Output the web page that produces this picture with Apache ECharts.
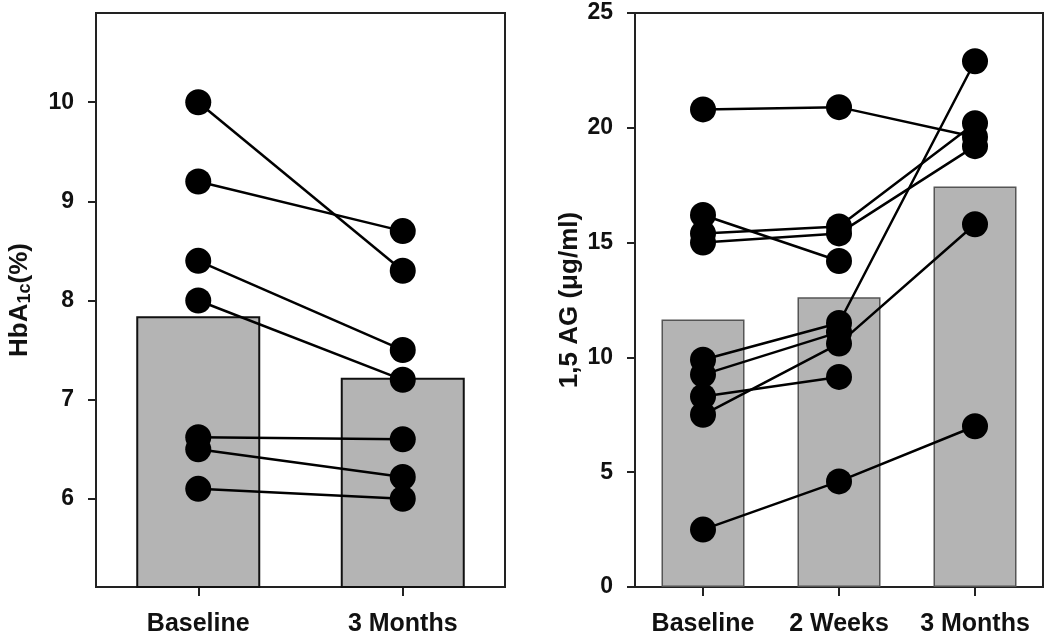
<!DOCTYPE html>
<html>
<head>
<meta charset="utf-8">
<script src="https://cdn.jsdelivr.net/npm/echarts@6/dist/echarts.min.js"></script>
<style>html,body{margin:0;padding:0;background:#fff}#c{width:1050px;height:637px}</style>
</head>
<body>
<div id="c"></div>
<script>
// Left panel: HbA1c
const catsA = ['Baseline', '3 Months'];
const barA = [7.84, 7.22];
const hbaBase = [10.0, 9.2, 8.4, 8.0, 6.62, 6.5, 6.1];
const hba3m   = [8.3, 8.7, 7.5, 7.2, 6.6, 6.22, 6.0];
const ticksA = [6, 7, 8, 9, 10];

// Right panel: 1,5 AG
const catsB = ['Baseline', '2 Weeks', '3 Months'];
const barB = [11.65, 12.62, 17.44];
const agBase = [20.8, 16.2, 15.4, 15.0, 9.9, 9.25, 8.3, 7.5, 2.5];
const ag2w   = [20.9, 14.2, 15.7, 15.4, 11.5, 11.1, 9.15, 10.6, 4.6];
const ag3m   = [19.6, null, 20.2, 19.2, 22.9, null, null, 15.8, 7.0];

const FONT = 'Liberation Sans, Arial, sans-serif';
const txt = { fontFamily: FONT, fontWeight: 'bold', color: '#111' };

const chart = echarts.init(document.getElementById('c'), null, { renderer: 'canvas' });

const series = [];
// bars
series.push({ type: 'bar', xAxisIndex: 0, yAxisIndex: 0, data: barA, barWidth: 124,
  itemStyle: { color: '#b4b4b4', borderColor: '#111', borderWidth: 2 }, z: 1, silent: true });
series.push({ type: 'bar', xAxisIndex: 1, yAxisIndex: 1, data: barB, barWidth: 83,
  itemStyle: { color: '#b4b4b4', borderColor: '#555', borderWidth: 1.5 }, z: 1, silent: true });

// connecting lines
hbaBase.forEach((v, i) => {
  series.push({ type: 'line', xAxisIndex: 0, yAxisIndex: 0, data: [v, hba3m[i]],
    symbol: 'none', lineStyle: { color: '#000', width: 2.5 }, z: 2, silent: true, animation: false });
});
agBase.forEach((v, i) => {
  series.push({ type: 'line', xAxisIndex: 1, yAxisIndex: 1, data: [v, ag2w[i], ag3m[i]],
    symbol: 'none', connectNulls: false, lineStyle: { color: '#000', width: 2.5 }, z: 2, silent: true, animation: false });
});

// points
const ptsA = [];
hbaBase.forEach(v => ptsA.push([catsA[0], v]));
hba3m.forEach(v => ptsA.push([catsA[1], v]));
const ptsB = [];
agBase.forEach(v => ptsB.push([catsB[0], v]));
ag2w.forEach(v => ptsB.push([catsB[1], v]));
ag3m.forEach(v => { if (v != null) ptsB.push([catsB[2], v]); });

series.push({ type: 'scatter', xAxisIndex: 0, yAxisIndex: 0, data: ptsA, symbolSize: 26,
  itemStyle: { color: '#000', opacity: 1 }, z: 3, silent: true });
series.push({ type: 'scatter', xAxisIndex: 1, yAxisIndex: 1, data: ptsB, symbolSize: 26,
  itemStyle: { color: '#000', opacity: 1 }, z: 3, silent: true });

const xAxisCommon = {
  type: 'category', boundaryGap: true,
  axisLine: { show: false },
  axisTick: { show: true, alignWithLabel: true, inside: false, length: 9, lineStyle: { color: '#222', width: 2 } },
  axisLabel: Object.assign({ fontSize: 25, margin: 25, interval: 0, hideOverlap: false }, txt),
  splitLine: { show: false }
};

chart.setOption({
  animation: false,
  backgroundColor: '#fff',
  grid: [
    { left: 96, right: 545, top: 13, bottom: 50, show: true, borderColor: '#222', borderWidth: 2, backgroundColor: 'transparent' },
    { left: 635, right: 7, top: 13, bottom: 50, show: true, borderColor: '#222', borderWidth: 2, backgroundColor: 'transparent' }
  ],
  xAxis: [
    Object.assign({ gridIndex: 0, data: catsA }, xAxisCommon),
    Object.assign({ gridIndex: 1, data: catsB }, xAxisCommon)
  ],
  yAxis: [
    { type: 'value', gridIndex: 0, min: 5.11, max: 10.9,
      axisLine: { show: false },
      axisTick: { show: true, length: 8, customValues: ticksA, lineStyle: { color: '#222', width: 2 } },
      axisLabel: Object.assign({ fontSize: 23, margin: 22, customValues: ticksA }, txt),
      splitLine: { show: false },
      name: 'HbA{sub|1c}(%)', nameLocation: 'middle', nameGap: 62, nameRotate: 90,
      nameTextStyle: Object.assign({ fontSize: 26, rich: { sub: Object.assign({ fontSize: 18, verticalAlign: 'bottom', padding: [10, 0, 0, 0] }, txt) } }, txt)
    },
    { type: 'value', gridIndex: 1, min: 0, max: 25, interval: 5,
      axisLine: { show: false },
      axisTick: { show: true, length: 8, lineStyle: { color: '#222', width: 2 } },
      axisLabel: Object.assign({ fontSize: 23, margin: 22 }, txt),
      splitLine: { show: false },
      name: '1,5 AG (μg/ml)', nameLocation: 'middle', nameGap: 52, nameRotate: 90,
      nameTextStyle: Object.assign({ fontSize: 26 }, txt)
    }
  ],
  series: series
});
</script>
</body>
</html>
